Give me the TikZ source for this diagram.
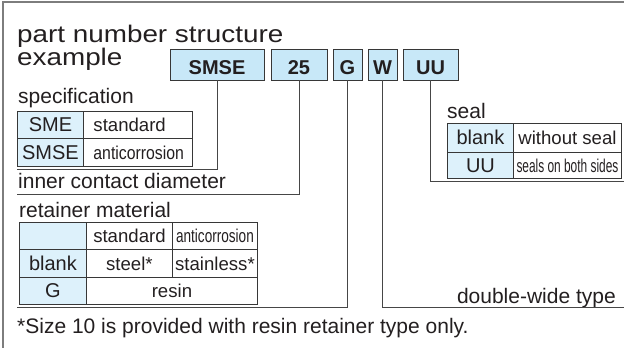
\documentclass[tikz,border=0pt]{standalone}
\usepackage{fontspec}
\setmainfont{Liberation Sans}
\usepackage{graphicx}

\definecolor{codeblue}{RGB}{200,232,248}
\definecolor{cellblue}{RGB}{221,241,251}
\definecolor{ink}{RGB}{35,31,32}
\definecolor{boxline}{RGB}{55,55,55}
\definecolor{leadgray}{RGB}{70,70,70}
\definecolor{framegray}{RGB}{125,125,125}

\newcommand{\fs}[1]{\fontsize{#1}{#1}\selectfont}
\newcommand{\squeeze}[2]{\scalebox{#1}[1]{#2}}

\tikzset{
  code/.style={draw=boxline, fill=codeblue, line width=0.9pt, anchor=base,
    font=\fs{20}\bfseries, inner sep=0pt, text height=25pt, text depth=6pt},
  head/.style={anchor=base west, inner sep=0pt, font=\fs{21}},
  title/.style={head, font=\fs{24}},
  cell/.style={draw=boxline, line width=0.9pt, anchor=north west, inner sep=0pt,
    text height=14pt, text depth=0pt, font=\fs{18.6}},
  leftcell/.style={cell, inner xsep=10pt, text width=89pt, align=left},
  key/.style={cell, fill=cellblue, font=\fs{20}},
  lead/.style={draw=leadgray, line width=1pt}
}

\begin{document}
\begin{tikzpicture}[x=1pt, y=-1pt, text=ink]
    \useasboundingbox (0,0) rectangle (624,348);
    % outer frame, cut off at right and bottom
    \draw[framegray, line width=1.5pt] (3,348) -- (3,2) -- (624,2);

    % First, the title and the code boxes
    \node[title, text depth=0pt] (title) at (17,42) {\squeeze{1.16}{part number structure}};
    \node[title, text height=17pt] (titlex) at (17,65) {\squeeze{1.16}{example}};

    \node[code, minimum width=94pt] (smse) at (217,74) {SMSE};
    \node[code, minimum width=56pt] (dia) at (299,74) {25};
    \node[code, minimum width=29pt] (ret) at (347.5,74) {G};
    \node[code, minimum width=29pt] (wide) at (382.5,74) {W};
    \node[code, minimum width=55pt] (seal) at (430.5,74) {UU};

    % specification
    \node[head] (spec) at (18,103) {specification};
    \node[key, minimum width=66pt, minimum height=27pt] (sme) at (17,111) {SME};
    \node[leftcell, minimum height=27pt] (smestd) at (83,111) {standard};
    \node[key, minimum width=66pt, minimum height=28pt] (smsek) at (17,138) {SMSE};
    \node[leftcell, minimum height=28pt] (smseac) at (83,138) {\squeeze{0.85}{anticorrosion}};

    % inner contact diameter
    \node[head] (diatext) at (18,188) {inner contact diameter};

    % retainer material
    \node[head] (rettext) at (19,217) {retainer material};
    \node[key, minimum width=67pt, minimum height=27pt] (ret00) at (19,222) {};
    \node[cell, minimum width=86pt, minimum height=27pt] (retstd) at (86,222) {standard};
    \node[cell, minimum width=85pt, minimum height=27pt] (retac) at (172,222) {\squeeze{0.73}{anticorrosion}};
    \node[key, minimum width=67pt, minimum height=28pt] (retblank) at (19,249) {blank};
    \node[cell, minimum width=86pt, minimum height=28pt] (steel) at (86,249) {steel*};
    \node[cell, minimum width=85pt, minimum height=28pt] (stainless) at (172,249) {stainless*};
    \node[key, minimum width=67pt, minimum height=27pt] (retg) at (19,277) {G};
    \node[cell, minimum width=171pt, minimum height=27pt] (resin) at (86,277) {resin};

    % seal
    \node[head] (sealtext) at (447,118) {seal};
    \node[key, minimum width=66pt, minimum height=29pt] (sealblank) at (447,123) {blank};
    \node[cell, minimum width=108pt, minimum height=29pt] (noseal) at (513,123) {without seal};
    \node[key, minimum width=66pt, minimum height=26pt] (sealuu) at (447,152) {UU};
    \node[cell, minimum width=108pt, minimum height=26pt] (bothseal) at (513,152) {\squeeze{0.64}{seals on both sides}};

    % double-wide type and footnote
    \node[head, anchor=base east] (widetext) at (616,303) {double-wide type};
    \node[head] (note) at (17,333) {*Size 10 is provided with resin retainer type only.};

    % Now draw the leader lines:
    \coordinate (specend) at (17,169);
    \coordinate (diaend) at (17,194);
    \coordinate (retend) at (17,307.5);
    \coordinate (wideend) at (624,307.5);
    \coordinate (sealend) at (624,181);
    \draw[lead] (smse.south) |- (specend);
    \draw[lead] (dia.south) |- (diaend);
    \draw[lead] (ret.south) |- (retend);
    \draw[lead] (wide.south) |- (wideend);
    \draw[lead] (seal.south) |- (sealend);
\end{tikzpicture}
\end{document}
